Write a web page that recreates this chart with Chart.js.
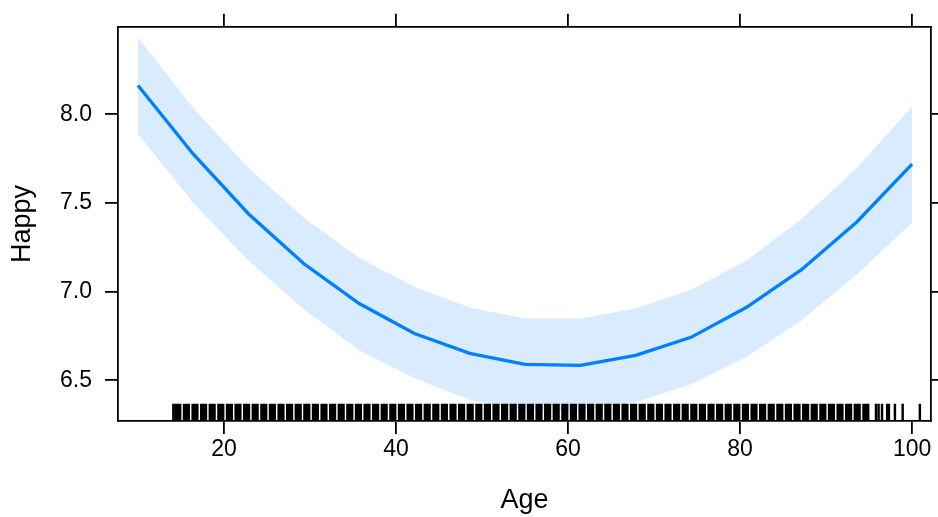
<!DOCTYPE html>
<html>
<head>
<meta charset="utf-8">
<script src="https://cdn.jsdelivr.net/npm/chart.js@4/dist/chart.umd.min.js"></script>
<style>
  html, body { margin: 0; padding: 0; background: #fff; }
  #wrap { width: 938px; height: 517px; }
</style>
</head>
<body>
<div id="wrap"><canvas id="chart"></canvas></div>
<script>
// effect of Age on Happy, with confidence band and data rug

const ageGrid = [10, 16.43, 22.86, 29.29, 35.71, 42.14, 48.57, 55, 61.43, 67.86, 74.29, 80.71, 87.14, 93.57, 100];
const fitValues = [8.163, 7.775, 7.438, 7.157, 6.933, 6.764, 6.652, 6.590, 6.584, 6.640, 6.742, 6.910, 7.124, 7.393, 7.719];
const upperValues = [8.433, 8.034, 7.697, 7.416, 7.191, 7.028, 6.910, 6.848, 6.848, 6.904, 7.011, 7.174, 7.410, 7.697, 8.045];
const lowerValues = [7.888, 7.500, 7.174, 6.899, 6.669, 6.511, 6.388, 6.331, 6.331, 6.376, 6.478, 6.629, 6.837, 7.096, 7.388];

// rug: ages with many observations (thick marks) and a few single ones
const rugDense = [15, 16, 17, 18, 19, 20, 21, 22, 23, 24, 25, 26, 27, 28, 29, 30, 31, 32, 33, 34,
  35, 36, 37, 38, 39, 40, 41, 42, 43, 44, 45, 46, 47, 48, 49, 50, 51, 52, 53, 54, 55, 56, 57, 58,
  59, 60, 61, 62, 63, 64, 65, 66, 67, 68, 69, 70, 71, 72, 73, 74, 75, 76, 77, 78, 79, 80, 81, 82,
  83, 84, 85, 86, 87, 88, 89, 90, 91, 92, 93, 94, 95];
const rugSparse = [14, 95.7, 96.0, 96.4, 97.0, 97.2, 97.9, 98.8, 100.8];
const rugRange = [6.27, 6.365];

const xTicks = [20, 40, 60, 80, 100];
const yTicks = [6.5, 7.0, 7.5, 8.0];

const xMin = 7.67, xMax = 102.2;
const yMin = 6.27, yMax = 8.494;

const pts = (ys) => ageGrid.map((x, i) => ({ x: x, y: ys[i] }));
const rugPts = (ages) => ages.map((a) => ({ x: a, y: rugRange }));

const setTicks = (list) => (axis) => { axis.ticks = list.map((v) => ({ value: v })); };

const gridOpts = {
  drawOnChartArea: false,
  drawTicks: true,
  offset: false,
  tickLength: 13,
  color: '#000',
  lineWidth: 1.8
};
const borderOpts = { display: true, color: '#000', width: 1.8 };

Chart.defaults.font.family = '"Liberation Sans", Arial, sans-serif';
Chart.defaults.color = '#000';

const ctx = document.getElementById('chart').getContext('2d');
const chart = new Chart(ctx, {
  type: 'line',
  data: {
    datasets: [
      {
        type: 'bar',
        label: 'rug',
        data: rugPts(rugDense),
        backgroundColor: '#000',
        barThickness: 6.5,
        order: 0
      },
      {
        type: 'bar',
        label: 'rug single',
        data: rugPts(rugSparse),
        backgroundColor: '#000',
        barThickness: 1.8,
        order: 0
      },
      {
        label: 'fit',
        data: pts(fitValues),
        borderColor: '#0080FF',
        borderWidth: 3.3,
        pointRadius: 0,
        fill: false,
        tension: 0,
        order: 1
      },
      {
        label: 'upper',
        data: pts(upperValues),
        borderWidth: 0,
        borderColor: 'rgba(0,0,0,0)',
        backgroundColor: 'rgba(0,128,255,0.15)',
        pointRadius: 0,
        fill: '+1',
        tension: 0,
        order: 2
      },
      {
        label: 'lower',
        data: pts(lowerValues),
        borderWidth: 0,
        borderColor: 'rgba(0,0,0,0)',
        pointRadius: 0,
        fill: false,
        tension: 0,
        order: 3
      }
    ]
  },
  options: {
    responsive: true,
    maintainAspectRatio: false,
    animation: false,
    layout: { padding: 0 },
    plugins: {
      legend: { display: false },
      tooltip: { enabled: false }
    },
    scales: {
      x: {
        type: 'linear',
        position: 'bottom',
        offset: false,
        min: xMin,
        max: xMax,
        afterBuildTicks: setTicks(xTicks),
        afterFit: (s) => { s.height = 96; },
        grid: gridOpts,
        border: borderOpts,
        ticks: {
          font: { size: 23 },
          padding: 2,
          maxRotation: 0,
          callback: (v) => String(v)
        },
        title: {
          display: true,
          text: 'Age',
          font: { size: 27 },
          padding: { top: 0, bottom: 0 }
        }
      },
      xTop: {
        type: 'linear',
        position: 'top',
        offset: false,
        min: xMin,
        max: xMax,
        afterBuildTicks: setTicks(xTicks),
        afterFit: (s) => { s.height = 25; },
        grid: gridOpts,
        border: borderOpts,
        ticks: { display: false }
      },
      y: {
        type: 'linear',
        position: 'left',
        min: yMin,
        max: yMax,
        afterBuildTicks: setTicks(yTicks),
        afterFit: (s) => { s.width = 118; },
        grid: gridOpts,
        border: borderOpts,
        ticks: {
          font: { size: 23 },
          padding: 13,
          callback: (v) => Number(v).toFixed(1)
        },
        title: {
          display: true,
          text: 'Happy',
          font: { size: 27 },
          padding: { top: 6, bottom: 0 }
        }
      },
      yRight: {
        type: 'linear',
        position: 'right',
        min: yMin,
        max: yMax,
        afterBuildTicks: setTicks(yTicks),
        afterFit: (s) => { s.width = 7; },
        grid: gridOpts,
        border: borderOpts,
        ticks: { display: false }
      }
    }
  }
});
</script>
</body>
</html>
